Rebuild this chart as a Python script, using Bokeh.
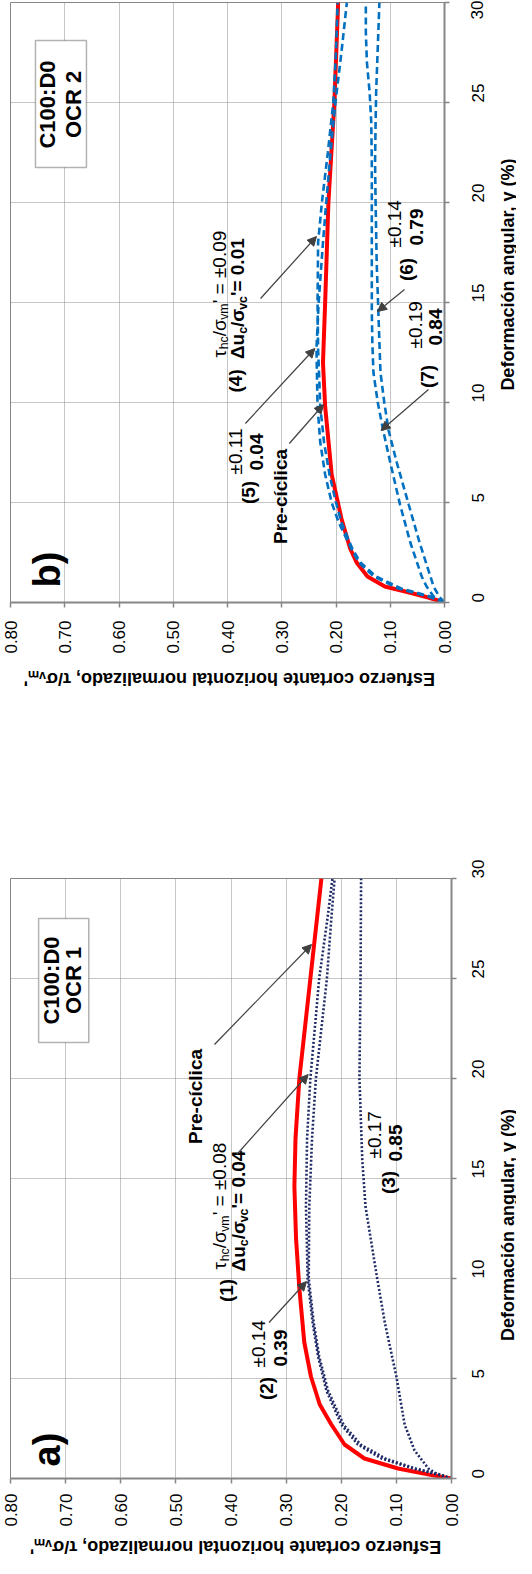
import math
from bokeh.plotting import figure
from bokeh.models import (Range1d, FixedTicker, NumeralTickFormatter, Label, Arrow,
                          NormalHead, BoxAnnotation)
from bokeh.layouts import column, row
from bokeh.embed import file_html
from bokeh.resources import INLINE

FONT = "Liberation Sans"

# ---------------- data ----------------
stress_ticks = [0.0, 0.1, 0.2, 0.3, 0.4, 0.5, 0.6, 0.7, 0.8]
gamma_ticks = [0, 5, 10, 15, 20, 25, 30]
stress_title = "Esfuerzo cortante  horizontal  normalizado, τ/σᵥₘ'"
gamma_title = "Deformación angular, γ (%)"

# Panel b) C100:D0 OCR 2
b_pre_gamma = [0, 0.25, 0.5, 0.8, 1.3, 2, 2.7, 4.2, 6.4, 9.8, 12, 15, 20, 25, 30]
b_pre_tau = [0, 0.03, 0.065, 0.11, 0.142, 0.162, 0.174, 0.19, 0.208, 0.22, 0.224, 0.22, 0.214, 0.203, 0.196]
b_up_gamma = [0, 0.3, 0.7, 1.3, 2, 2.7, 4, 5, 6.4, 8, 9.8, 12.7, 15, 18, 20, 22.5, 25, 27.5, 30]
b_c5_tau = [0, 0.03, 0.085, 0.13, 0.158, 0.172, 0.195, 0.208, 0.22, 0.229, 0.234, 0.236, 0.232, 0.224, 0.218, 0.21, 0.201, 0.19, 0.18]
b_c4_tau = [0, 0.025, 0.08, 0.126, 0.155, 0.17, 0.19, 0.2, 0.212, 0.222, 0.229, 0.233, 0.234, 0.233, 0.226, 0.215, 0.205, 0.2, 0.197]
b_low_gamma = [0, 0.3, 0.8, 1.3, 3, 4.9, 7, 8.6, 10, 11.5, 13, 14.6, 17, 20, 22, 24, 25.5, 27, 28.5, 30]
b_c6_tau = [0, 0.02, 0.033, 0.042, 0.063, 0.082, 0.1, 0.113, 0.123, 0.131, 0.133, 0.134, 0.134, 0.134, 0.134, 0.135, 0.138, 0.143, 0.145, 0.145]
b_c7_tau = [0, 0.01, 0.02, 0.026, 0.046, 0.066, 0.088, 0.103, 0.111, 0.118, 0.12, 0.122, 0.125, 0.127, 0.128, 0.127, 0.126, 0.124, 0.122, 0.12]

# Panel a) C100:D0 OCR 1
a_pre_gamma = [0, 0.17, 0.5, 1, 1.7, 2.7, 3.7, 5.1, 6.8, 9.5, 12, 14.6, 17, 20, 25, 30]
a_pre_tau = [0, 0.036, 0.097, 0.158, 0.194, 0.218, 0.239, 0.255, 0.267, 0.276, 0.282, 0.285, 0.283, 0.276, 0.256, 0.236]
a_12_gamma = [0, 0.2, 0.5, 1, 1.7, 2.7, 4.4, 6.1, 7.8, 10, 13.6, 17, 20, 25, 28, 30]
a_c1_tau = [0, 0.025, 0.07, 0.127, 0.17, 0.2, 0.227, 0.242, 0.252, 0.261, 0.264, 0.262, 0.256, 0.24, 0.225, 0.216]
a_c2_tau = [0, 0.02, 0.065, 0.12, 0.165, 0.196, 0.224, 0.24, 0.25, 0.259, 0.258, 0.253, 0.246, 0.226, 0.218, 0.212]
a_c3_gamma = [0, 0.2, 0.5, 1.4, 2.7, 5.1, 7.8, 10.2, 13.6, 16, 20, 25, 30]
a_c3_tau = [0, 0.025, 0.042, 0.067, 0.085, 0.1, 0.121, 0.136, 0.156, 0.162, 0.167, 0.165, 0.164]

# ---------------- helpers ----------------
REG_W = {'.': .278, ' ': .278, '=': .584, '±': .584, '(': .333, ')': .333, '/': .278,
         "'": .191, 'τ': .43, 'σ': .59, 'Δ': .668, 'u': .556, 'h': .556, 'c': .5, 'v': .5, 'm': .833}
BOLD_W = {'.': .278, ' ': .278, '=': .584, '±': .584, '(': .333, ')': .333, '/': .278,
          "'": .238, 'τ': .46, 'σ': .62, 'Δ': .722, 'u': .611, 'h': .611, 'c': .556, 'v': .556, 'm': .889}


def tw(s, size, bold):
    t = BOLD_W if bold else REG_W
    return sum(t.get(ch, 0.556) for ch in s) * size


def txt(p, x, y, text, size, bold=True, align="center", angle=math.pi / 2):
    p.add_layout(Label(x=x, y=y, text=text, angle=angle, text_align=align,
                       text_baseline="middle", text_font=FONT, text_font_size=f"{size}px",
                       text_font_style="bold" if bold else "normal", text_color="black"))


def rich(p, x, y, runs, size, bold):
    adv = 0.0
    for t, sub in runs:
        s = size * 0.65 if sub else size
        p.add_layout(Label(x=x, y=y, x_offset=(0.27 * size if sub else 0), y_offset=adv,
                           text=t, angle=math.pi / 2, text_align="left", text_baseline="middle",
                           text_font=FONT, text_font_size=f"{s:.1f}px",
                           text_font_style="bold" if bold else "normal", text_color="black"))
        adv += tw(t, s, bold)


def arrow(p, xs, ys, xe, ye):
    p.add_layout(Arrow(end=NormalHead(size=9, fill_color="#404040", line_color="#404040"),
                       x_start=xs, y_start=ys, x_end=xe, y_end=ye,
                       line_color="#404040", line_width=1.2))


def make_fig(width, height, mt, mb, ml, mr, lab_sd, glab_sd):
    p = figure(width=width, height=height, x_range=Range1d(0.8, 0.0), y_range=Range1d(0, 30),
               y_axis_location="right", output_backend="svg", toolbar_location=None,
               title=None, min_border_top=mt, min_border_bottom=mb,
               min_border_left=ml, min_border_right=mr)
    p.background_fill_color = "white"
    p.border_fill_color = "white"
    p.outline_line_color = "#868686"
    p.outline_line_width = 1
    for g in (p.xgrid[0], p.ygrid[0]):
        g.grid_line_color = "#8c8c8c"
        g.grid_line_dash = "1 1"
        g.grid_line_width = 1
    xa = p.xaxis[0]
    xa.ticker = FixedTicker(ticks=stress_ticks)
    xa.formatter = NumeralTickFormatter(format="0.00")
    xa.major_label_orientation = math.pi / 2
    xa.major_label_standoff = lab_sd
    ya = p.yaxis[0]
    ya.ticker = FixedTicker(ticks=gamma_ticks)
    ya.major_label_orientation = math.pi / 2
    ya.major_label_standoff = glab_sd
    for ax in (xa, ya):
        ax.axis_line_color = "#868686"
        ax.axis_line_width = 2
        ax.major_tick_line_color = "#868686"
        ax.major_tick_line_width = 1.5
        ax.major_tick_out = 5
        ax.major_tick_in = 0
        ax.minor_tick_line_color = None
        ax.major_label_text_font = FONT
        ax.major_label_text_font_size = "17px"
        ax.major_label_text_color = "black"
    return p


def title_fig(width, height, x, y, text, angle):
    t = figure(width=width, height=height, x_range=Range1d(0, 1), y_range=Range1d(0, 1),
               x_axis_type=None, y_axis_type=None, output_backend="svg",
               toolbar_location=None, title=None, min_border_top=0, min_border_bottom=0,
               min_border_left=0, min_border_right=0)
    t.outline_line_color = None
    t.background_fill_color = "white"
    t.border_fill_color = "white"
    t.grid.visible = False
    txt(t, x, y, text, 18, angle=angle)
    return t


RED = "#FF0000"
BLUE = "#0070C0"
NAVY = "#1F2A66"
SUB1 = [("τ", False), ("hc", True), ("/σ", False), ("vm", True)]
SUB2 = [("Δu", False), ("c", True), ("/σ", False), ("vc", True)]

# ---------------- panel b ----------------
pb = make_fig(498, 666, 2, 64, 10, 54, 13, 28)
pb.line(b_pre_tau, b_pre_gamma, line_color=RED, line_width=4)
for tau, gam in ((b_c5_tau, b_up_gamma), (b_c4_tau, b_up_gamma),
                 (b_c6_tau, b_low_gamma), (b_c7_tau, b_low_gamma)):
    pb.line(tau, gam, line_color=BLUE, line_width=2.6, line_dash="7 4")

pb.add_layout(BoxAnnotation(left=0.754, right=0.660, bottom=21.75, top=28.1, fill_color="white",
                            fill_alpha=1, line_color="black", line_width=1.5))
txt(pb, 0.732, 24.9, "C100:D0", 22)
txt(pb, 0.684, 24.9, "OCR 2", 22)
txt(pb, 0.732, 1.65, "b)", 38)

txt(pb, 0.386, 11.08, "(4)", 19)
rich(pb, 0.415, 12.25, SUB1 + [("' = ±0.09", False)], 19, False)
rich(pb, 0.381, 12.17, SUB2 + [("'= 0.01", False)], 19, True)
arrow(pb, 0.339, 15.2, 0.236, 18.3)

txt(pb, 0.361, 5.5, "(5)", 19)
txt(pb, 0.385, 6.4, "±0.11", 19, bold=False, align="left")
txt(pb, 0.346, 6.6, "0.04", 19, align="left")
arrow(pb, 0.367, 8.95, 0.239, 12.7)

txt(pb, 0.302, 5.3, "Pre-cíclica", 19)
arrow(pb, 0.286, 7.95, 0.223, 9.9)

txt(pb, 0.070, 16.65, "(6)", 19)
txt(pb, 0.092, 17.75, "±0.14", 19, bold=False, align="left")
txt(pb, 0.0525, 17.85, "0.79", 19, align="left")
arrow(pb, 0.0737, 15.65, 0.1235, 14.55)

txt(pb, 0.032, 11.3, "(7)", 19)
txt(pb, 0.054, 12.7, "±0.19", 19, bold=False, align="left")
txt(pb, 0.0166, 12.85, "0.84", 19, align="left")
arrow(pb, 0.0295, 10.65, 0.117, 8.6)

tb = title_fig(18, 666, 0.5, 0.5465, gamma_title, math.pi / 2)
sb = title_fig(516, 24, 0.434, 0.5, stress_title, math.pi)

# ---------------- panel a ----------------
pa = make_fig(498, 845, 188, 57, 10, 47, 10, 21)
pa.line(a_pre_tau, a_pre_gamma, line_color=RED, line_width=4)
for tau, gam in ((a_c1_tau, a_12_gamma), (a_c2_tau, a_12_gamma), (a_c3_tau, a_c3_gamma)):
    pa.line(tau, gam, line_color=NAVY, line_width=2.6, line_dash="2 2")

pa.add_layout(BoxAnnotation(left=0.749, right=0.658, bottom=21.8, top=28.0, fill_color="white",
                            fill_alpha=1, line_color="black", line_width=1.5))
txt(pa, 0.7265, 24.9, "C100:D0", 22)
txt(pa, 0.685, 24.9, "OCR 1", 22)
txt(pa, 0.733, 1.45, "a)", 38)

txt(pa, 0.408, 9.4, "(1)", 19)
rich(pa, 0.421, 10.45, SUB1 + [("' = ±0.08", False)], 19, False)
rich(pa, 0.386, 10.35, SUB2 + [("'= 0.04", False)], 19, True)
arrow(pa, 0.3895, 16.2, 0.26, 20.2)

txt(pa, 0.3365, 4.5, "(2)", 19)
txt(pa, 0.351, 5.55, "±0.14", 19, bold=False, align="left")
txt(pa, 0.310, 5.6, "0.39", 19, align="left")
arrow(pa, 0.331, 7.8, 0.263, 9.85)

txt(pa, 0.115, 14.8, "(3)", 19)
txt(pa, 0.140, 16.0, "±0.17", 19, bold=False, align="left")
txt(pa, 0.1007, 15.85, "0.85", 19, align="left")

txt(pa, 0.4644, 19.1, "Pre-cíclica", 19)
arrow(pa, 0.43, 21.7, 0.254, 26.7)

ta = title_fig(18, 845, 0.5, 0.4225, gamma_title, math.pi / 2)
sa = title_fig(516, 23, 0.446, 0.5, stress_title, math.pi)

layout = column(row(pb, tb), sb, row(pa, ta), sa)
open("out.html", "w").write(file_html(layout, INLINE))
